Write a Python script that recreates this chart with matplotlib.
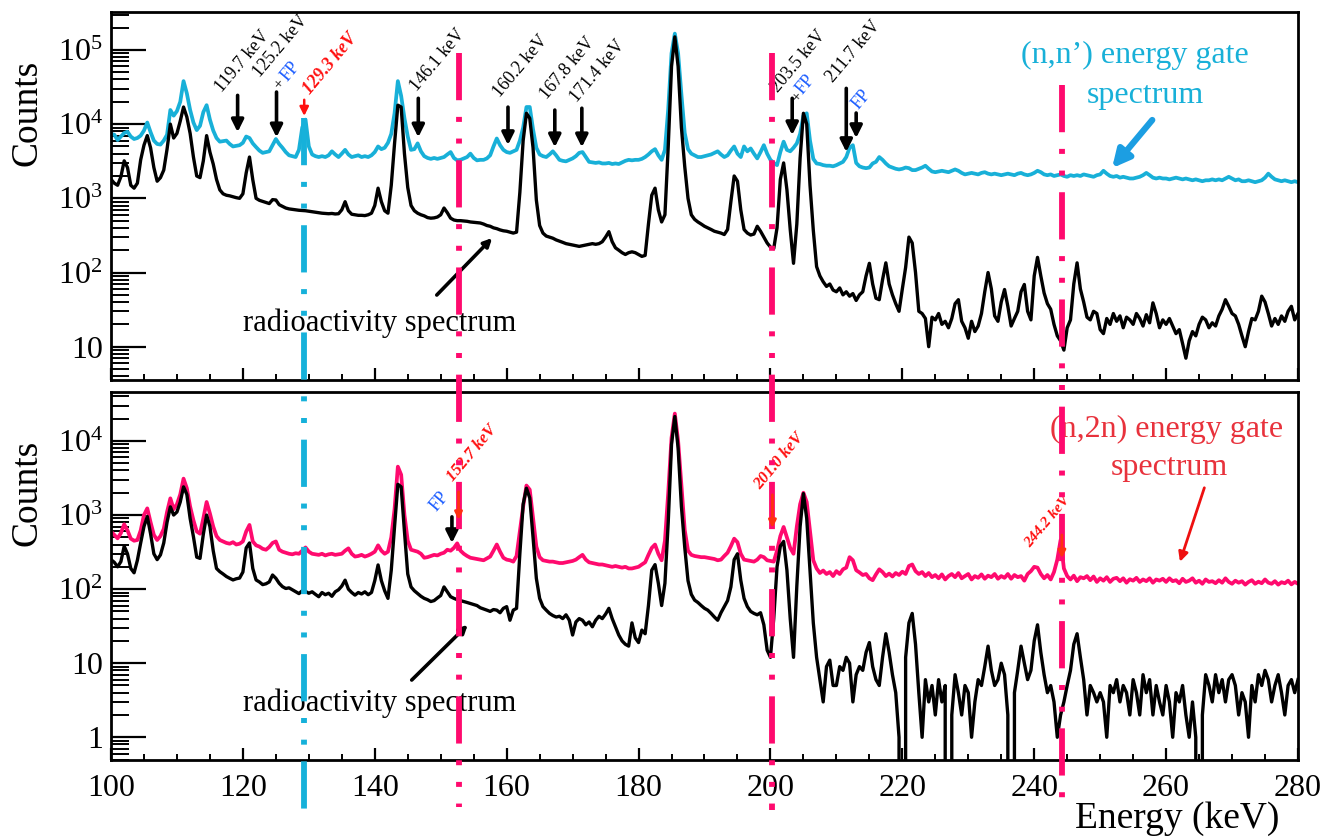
import numpy as np
import matplotlib
matplotlib.use("Agg")
import matplotlib.pyplot as plt
from matplotlib import transforms
from matplotlib.lines import Line2D
from matplotlib.patches import FancyArrowPatch
from matplotlib.ticker import FixedLocator, FixedFormatter, LogLocator, NullFormatter, MultipleLocator

plt.rcParams['font.family'] = ['Liberation Serif', 'DejaVu Serif']
plt.rcParams['mathtext.fontset'] = 'custom'
plt.rcParams['mathtext.rm'] = 'Liberation Serif'
plt.rcParams['mathtext.it'] = 'Liberation Serif:italic'
plt.rcParams['lines.scale_dashes'] = False

# energy channels, 0.5 keV
energy = np.linspace(100, 280, 361)

# (n,n') energy gate spectrum (top, cyan) - one row = 5 keV
nn_gate = [
    7400, 7200, 6100, 6800, 7600, 7900, 6800, 6300, 6500, 7000,          # 100
    8200, 10500, 7800, 6000, 5400, 5300, 6000, 7200, 15500, 13000,       # 105
    15000, 20000, 38000, 26000, 15500, 10500, 8300, 9500, 14500, 18000,  # 110
    11500, 8200, 6500, 5800, 5900, 6000, 5400, 5000, 5100, 5200,         # 115
    5600, 6800, 6500, 5500, 4900, 4400, 4100, 4200, 4300, 5200,          # 120
    6300, 5400, 4800, 4200, 3800, 3700, 3600, 4500, 9000, 11500,         # 125
    5000, 3900, 3700, 3600, 3700, 3600, 3800, 4300, 3900, 3600,          # 130
    4000, 4500, 3900, 3600, 3700, 3800, 3600, 3700, 3600, 3800,          # 135
    4200, 5000, 4600, 4800, 5600, 7400, 14000, 38000, 24000, 12000,      # 140
    6800, 4500, 4600, 5500, 4300, 3700, 3500, 3400, 3500, 3400,          # 145
    3500, 3600, 3900, 4200, 3500, 3250, 3300, 3450, 3600, 4000,          # 150
    3500, 3250, 3300, 3300, 3450, 3800, 5000, 6400, 5200, 4500,          # 155
    4200, 4100, 4300, 4500, 6000, 9000, 17000, 17000, 8500, 4800,        # 160
    3900, 3700, 3600, 3900, 4300, 3800, 3300, 3200, 3150, 3300,          # 165
    3450, 3700, 4100, 4200, 3600, 3100, 3050, 3000, 3050, 2950,          # 170
    2950, 3000, 2900, 2950, 2900, 3050, 3200, 3300, 3250, 3300,          # 175
    3300, 3400, 3600, 3900, 4300, 4600, 3800, 3300, 4500, 16000,         # 180
    90000, 166000, 90000, 25000, 7600, 4600, 4000, 3800, 3600, 3600,     # 185
    3700, 3800, 3900, 4100, 4300, 3900, 3600, 3800, 4400, 5000,          # 190
    4000, 3600, 5000, 4300, 4700, 4000, 3450, 4200, 5200, 4000,          # 195
    3300, 3000, 2800, 4200, 5800, 4500, 4300, 4800, 5500, 7400,          # 200
    13000, 14000, 6000, 3400, 2950, 2900, 2800, 2750, 2750, 2700,        # 205
    2800, 2950, 3100, 3600, 4800, 5200, 3000, 2700, 2600, 2550,          # 210
    2600, 2950, 3100, 3600, 3300, 2950, 2700, 2600, 2500, 2450,          # 215
    2500, 2600, 2550, 2400, 2400, 2500, 2600, 2750, 2500, 2300,          # 220
    2250, 2300, 2350, 2300, 2250, 2350, 2450, 2350, 2200, 2100,          # 225
    2150, 2200, 2150, 2100, 2200, 2250, 2150, 2100, 2150, 2100,          # 230
    2050, 2100, 2150, 2100, 2050, 2150, 2200, 2100, 2050, 2100,          # 235
    2200, 2350, 2250, 2100, 2050, 2100, 2000, 2050, 2100, 2000,          # 240
    1950, 2050, 2000, 2050, 2000, 2100, 2050, 2000, 1950, 2050,          # 245
    2100, 2350, 2150, 2000, 1950, 2000, 1900, 1950, 1900, 1850,          # 250
    1850, 1900, 1950, 2050, 2200, 2050, 1900, 1850, 1900, 1850,          # 255
    1850, 1800, 1850, 1900, 1850, 1800, 1850, 1800, 1750, 1800,          # 260
    1750, 1700, 1750, 1750, 1800, 1750, 1800, 1750, 1850, 1950,          # 265
    1850, 1750, 1800, 1700, 1700, 1750, 1700, 1650, 1700, 1750,          # 270
    1900, 2150, 1950, 1800, 1750, 1700, 1750, 1700, 1650, 1700,          # 275
    1650,
]

# radioactivity spectrum, top panel (black)
radio_top = [
    1800, 1600, 1500, 1950, 3200, 2600, 1500, 1370, 1600, 3300,          # 100
    5200, 7000, 4800, 2600, 1700, 1900, 2400, 4600, 10000, 6500,         # 105
    7500, 11000, 17000, 12500, 7500, 3600, 2000, 1900, 3200, 7000,       # 110
    4200, 2900, 1800, 1300, 1150, 1100, 1080, 1050, 1020, 1000,          # 115
    1150, 2200, 3600, 1780, 1000, 940, 910, 880, 850, 960,               # 120
    950, 820, 780, 740, 720, 710, 700, 690, 685, 680,                    # 125
    670, 660, 650, 640, 630, 625, 620, 625, 615, 620,                    # 130
    700, 900, 680, 610, 600, 590, 590, 585, 600, 630,                    # 135
    800, 1370, 900, 680, 630, 1500, 5500, 18000, 17000, 4000,            # 140
    1400, 800, 680, 630, 600, 580, 550, 540, 545, 560,                   # 145
    600, 740, 640, 540, 510, 500, 500, 495, 490, 480,                    # 150
    475, 470, 465, 450, 430, 420, 400, 390, 375, 365,                    # 155
    360, 350, 340, 350, 1200, 6000, 14000, 12000, 4800, 950,             # 160
    430, 340, 310, 300, 290, 275, 265, 255, 245, 240,                    # 165
    235, 230, 225, 230, 235, 240, 245, 240, 245, 260,                    # 170
    300, 355, 260, 215, 200, 185, 175, 185, 190, 185,                    # 175
    175, 165, 170, 450, 1100, 1370, 700, 480, 600, 5000,                 # 180
    60000, 150000, 60000, 9000, 2700, 1000, 600, 520, 480, 450,          # 185
    420, 400, 380, 360, 350, 340, 325, 380, 900, 2000,                   # 190
    1700, 700, 380, 340, 320, 330, 420, 360, 300, 250,                   # 195
    220, 210, 400, 1800, 3000, 1300, 380, 133, 450, 3500,                # 200
    14000, 10000, 1500, 370, 120, 90, 75, 65, 70, 58,                    # 205
    55, 62, 50, 55, 48, 52, 42, 50, 55, 90,                              # 210
    133, 70, 45, 43, 80, 135, 70, 50, 38, 30,                            # 215
    60, 117, 300, 250, 100, 30, 28, 24, 10, 25,                          # 220
    23, 28, 20, 22, 18, 24, 38, 43, 22, 18,                              # 225
    13, 22, 16, 19, 28, 55, 100, 60, 26, 22,                             # 230
    40, 59, 35, 19, 24, 30, 55, 69, 30, 23,                              # 235
    90, 160, 90, 53, 38, 32, 20, 14, 12, 9,                              # 240
    18, 23, 70, 135, 60, 40, 25, 23, 30, 28,                             # 245
    17, 15, 24, 20, 28, 22, 26, 18, 25, 23,                              # 250
    20, 28, 24, 19, 27, 21, 39, 28, 18, 23,                              # 255
    20, 24, 19, 15, 17, 11, 7, 12, 16, 14,                               # 260
    20, 25, 23, 18, 21, 19, 26, 32, 43, 35,                              # 265
    28, 26, 20, 14, 10, 16, 24, 23, 30, 48,                              # 270
    40, 28, 19, 24, 20, 26, 22, 30, 35, 23,                              # 275
    28,
]

# (n,2n) energy gate spectrum (bottom, pink)
n2n_gate = [
    600, 540, 485, 570, 750, 620, 480, 450, 460, 620,                    # 100
    1000, 1230, 800, 540, 460, 520, 650, 1100, 1680, 1200,               # 105
    1400, 1900, 3100, 2300, 1300, 850, 600, 560, 900, 1500,              # 110
    1050, 700, 520, 460, 440, 420, 410, 430, 400, 410,                   # 115
    440, 600, 735, 440, 390, 375, 350, 340, 370, 420,                    # 120
    440, 340, 320, 310, 300, 295, 305, 300, 330, 365,                    # 125
    320, 300, 295, 290, 300, 285, 295, 300, 290, 295,                    # 130
    300, 330, 355, 300, 275, 280, 290, 275, 285, 300,                    # 135
    320, 390, 330, 300, 320, 500, 1200, 4500, 3500, 1000,                # 140
    450, 340, 330, 320, 300, 265, 270, 280, 290, 285,                    # 145
    300, 310, 340, 330, 360, 415, 330, 300, 280, 265,                    # 150
    260, 255, 250, 245, 260, 275, 330, 400, 320, 265,                    # 155
    250, 245, 235, 280, 600, 1300, 2500, 2200, 900, 375,                 # 160
    270, 245, 240, 235, 235, 230, 225, 225, 230, 235,                    # 165
    240, 250, 270, 290, 250, 230, 225, 220, 215, 215,                    # 170
    210, 205, 200, 205, 200, 195, 200, 190, 190, 195,                    # 175
    200, 215, 230, 290, 360, 400, 300, 245, 450, 2000,                   # 180
    11000, 23400, 10000, 2500, 630, 330, 290, 280, 275, 270,             # 185
    270, 265, 260, 255, 245, 250, 280, 310, 380, 480,                    # 190
    430, 300, 250, 245, 240, 235, 250, 280, 270, 245,                    # 195
    240, 235, 330, 520, 690, 500, 360, 300, 700, 1400,                   # 200
    2000, 1500, 600, 245, 190, 165, 178, 160, 170, 150,                  # 205
    175, 160, 185, 195, 270, 245, 180, 168, 155, 160,                    # 210
    140, 132, 158, 185, 170, 150, 162, 148, 165, 155,                    # 215
    172, 160, 205, 215, 175, 160, 170, 150, 165, 145,                    # 220
    155, 140, 158, 135, 150, 160, 145, 165, 140, 150,                    # 225
    160, 135, 150, 142, 158, 138, 152, 145, 160, 138,                    # 230
    150, 142, 160, 138, 155, 145, 150, 130, 160, 175,                    # 235
    200, 195, 160, 140, 155, 135, 170, 250, 460, 190,                    # 240
    150, 135, 152, 128, 145, 140, 150, 132, 148, 125,                    # 245
    140, 130, 145, 125, 138, 142, 128, 140, 122, 136,                    # 250
    130, 142, 125, 135, 128, 140, 122, 135, 130, 138,                    # 255
    125, 140, 128, 132, 120, 138, 125, 130, 140, 122,                    # 260
    130, 118, 135, 125, 128, 120, 132, 122, 140, 125,                    # 265
    118, 130, 122, 128, 115, 125, 132, 118, 126, 120,                    # 270
    135, 122, 118, 128, 115, 124, 120, 130, 116, 125,                    # 275
    118,
]

# radioactivity spectrum, bottom panel (black)
radio_bottom = [
    250, 230, 200, 235, 380, 300, 190, 166, 245, 420,                    # 100
    700, 955, 560, 300, 250, 290, 420, 800, 1290, 1000,                  # 105
    1100, 1500, 2400, 1900, 900, 510, 270, 260, 550, 1000,               # 110
    700, 330, 190, 172, 160, 148, 140, 133, 138, 141,                    # 115
    170, 360, 420, 190, 133, 125, 115, 118, 125, 155,                    # 120
    140, 120, 108, 102, 104, 98, 92, 87, 95, 93,                         # 125
    88, 92, 85, 79, 90, 84, 88, 80, 92, 98,                              # 130
    110, 132, 100, 90, 83, 90, 86, 92, 84, 90,                           # 135
    130, 212, 130, 95, 75, 180, 700, 2600, 2400, 600,                    # 140
    160, 107, 95, 87, 80, 75, 72, 68, 70, 76,                            # 145
    82, 107, 92, 79, 75, 72, 70, 68, 66, 64,                             # 150
    62, 60, 56, 54, 52, 50, 53, 52, 48, 55,                              # 155
    58, 38, 52, 55, 300, 1400, 2300, 1700, 500, 140,                     # 160
    75, 58, 52, 47, 44, 42, 43, 40, 45, 38,                              # 165
    24, 36, 40, 38, 33, 36, 31, 38, 43, 40,                              # 170
    46, 55, 40, 31, 24, 20, 18, 17, 35, 22,                              # 175
    19, 28, 25, 60, 180, 214, 120, 60, 120, 800,                         # 180
    9000, 21400, 8000, 1300, 370, 130, 85, 71, 66, 60,                   # 185
    55, 52, 47, 42, 38, 48, 58, 70, 107, 250,                            # 190
    300, 132, 75, 58, 50, 47, 45, 48, 33, 15,                            # 195
    12, 40, 200, 380, 440, 180, 40, 12, 110, 700,                        # 200
    1950, 900, 180, 35, 12, 6, 3, 9, 11, 5,                              # 205
    5, 9, 8, 12, 10, 3, 7, 9, 8, 14,                                     # 210
    19, 9, 6, 5, 12, 25, 14, 7, 4, 1,                                    # 215
    0, 12, 35, 47, 18, 4, 1, 6, 3, 5,                                    # 220
    2, 6, 3, 5, 0, 2, 7, 4, 2, 5,                                        # 225
    4, 1, 3, 6, 5, 9, 17, 8, 5, 6,                                       # 230
    10, 7, 2, 0, 4, 8, 17, 10, 6, 8,                                     # 235
    20, 33, 14, 7, 4, 5, 3, 1, 2, 3,                                     # 240
    5, 8, 18, 25, 12, 6, 2, 5, 4, 3,                                     # 245
    4, 3, 1, 5, 4, 6, 3, 5, 4, 2,                                        # 250
    6, 4, 2, 7, 4, 6, 2, 5, 3, 2,                                        # 255
    5, 3, 1, 4, 3, 5, 2, 1, 3, 1,                                        # 260
    0, 2, 7, 5, 3, 7, 4, 6, 3, 6,                                        # 265
    7, 5, 2, 4, 3, 1, 5, 3, 7, 5,                                        # 270
    8, 6, 3, 5, 7, 4, 2, 5, 6, 4,                                        # 275
    6,
]

# gate energies drawn as dash-dot lines (keV) and their figure y span
gate_e = [129.3, 152.7, 200.3, 244.2]
gate_color = ['#16b1da', '#ff0a6e', '#ff0a6e', '#ff0a6e']
gate_y0 = [0.025, 0.038, 0.035, 0.031]
gate_y1 = [0.859, 0.937, 0.937, 0.899]

# top panel peak labels: text, x(keV), y(axes frac), arrow x, tail y, head y
top_labels = ['119.7 keV', '125.2 keV', '146.1 keV', '160.2 keV', '167.8 keV', '171.4 keV', '203.5 keV', '211.7 keV']
top_text_x = [116.8, 122.6, 146.4, 159.0, 166.1, 170.7, 201.2, 209.5]
top_text_y = [0.780, 0.821, 0.783, 0.766, 0.761, 0.753, 0.780, 0.807]
top_arrow_x = [119.2, 125.1, 146.6, 160.2, 167.3, 171.4, 203.3, 211.5]
top_arrow_y0 = [0.774, 0.783, 0.766, 0.742, 0.734, 0.739, 0.766, 0.793]
top_arrow_y1 = [0.674, 0.660, 0.660, 0.639, 0.633, 0.633, 0.666, 0.620]

# bottom panel red gate labels
bot_labels = ['152.7 keV', '201.0 keV', '244.2 keV']
bot_text_x = [151.9, 198.4, 239.4]
bot_text_y = [0.755, 0.733, 0.576]
bot_text_size = [12, 12, 11]
bot_mark_x = [152.7, 200.3, 244.2]
bot_mark_y0 = [0.728, 0.720, 0.611]
bot_mark_y1 = [0.652, 0.630, 0.548]

BLACK = 'black'
CYAN = '#18b0d8'
PINK = '#ff0a6e'
RED = '#ff1010'
BLUE = '#1f5fff'

fig = plt.figure(figsize=(13.23, 8.39), dpi=100)
ax1 = fig.add_axes([0.0839, 0.5471, 0.8972, 0.4383])
ax2 = fig.add_axes([0.0839, 0.0942, 0.8972, 0.4390])

ax1.plot(energy, nn_gate, color=CYAN, lw=2.7, zorder=2)
ax1.plot(energy, radio_top, color=BLACK, lw=2.4, zorder=3)
ax2.plot(energy, n2n_gate, color=PINK, lw=2.7, zorder=2)
ax2.plot(energy, radio_bottom, color=BLACK, lw=2.4, zorder=3)

for ax, lo, hi, ticks, labels in [
        (ax1, 3.56, 3.22e5, [10, 1e2, 1e3, 1e4, 1e5],
         ['10', r'$\mathregular{10^2}$', r'$\mathregular{10^3}$', r'$\mathregular{10^4}$', r'$\mathregular{10^5}$']),
        (ax2, 0.494, 4.63e4, [1, 10, 1e2, 1e3, 1e4],
         ['1', '10', r'$\mathregular{10^2}$', r'$\mathregular{10^3}$', r'$\mathregular{10^4}$'])]:
    ax.set_yscale('log', nonpositive='clip')
    ax.set_xlim(100, 280)
    ax.set_ylim(lo, hi)
    ax.yaxis.set_major_locator(FixedLocator(ticks))
    ax.yaxis.set_major_formatter(FixedFormatter(labels))
    ax.yaxis.set_minor_locator(LogLocator(base=10, subs=np.arange(2, 10), numticks=20))
    ax.yaxis.set_minor_formatter(NullFormatter())
    ax.xaxis.set_major_locator(MultipleLocator(20))
    ax.xaxis.set_minor_locator(MultipleLocator(5))
    ax.tick_params(axis='y', which='major', direction='in', length=25, width=1.6, labelsize=23, pad=6,
                   left=True, right=False)
    ax.tick_params(axis='y', which='minor', direction='in', length=13, width=1.4, left=True, right=False)
    ax.tick_params(axis='x', which='major', direction='in', length=9, width=1.6, labelsize=23, pad=10,
                   top=False)
    ax.tick_params(axis='x', which='minor', direction='in', length=4, width=1.4, top=False)
    for sp in ax.spines.values():
        sp.set_linewidth(2.0)

ax1.tick_params(axis='x', labelbottom=False)

fig.text(0.0204, 0.8653, 'Counts', rotation=90, ha='center', va='center', fontsize=27)
fig.text(0.0204, 0.4124, 'Counts', rotation=90, ha='center', va='center', fontsize=27)
fig.text(0.890, 0.003, 'Energy (keV)', ha='center', va='bottom', fontsize=27)

# gate lines across both panels
for e, c, y0, y1 in zip(gate_e, gate_color, gate_y0, gate_y1):
    tr = transforms.blended_transform_factory(ax1.transData, fig.transFigure)
    fig.add_artist(Line2D([e, e], [y1, y0], transform=tr, color=c, lw=4.2,
                          linestyle=(0, (34, 12, 3.6, 12, 3.6, 12)), solid_capstyle='butt',
                          dash_capstyle='butt', zorder=3))

arrow_kw = dict(arrowstyle='-|>', color=BLACK, lw=2.6, mutation_scale=18, shrinkA=0, shrinkB=0)
mixed = ('data', 'axes fraction')

tr1 = transforms.blended_transform_factory(ax1.transData, ax1.transAxes)
tr2 = transforms.blended_transform_factory(ax2.transData, ax2.transAxes)

# top panel annotations
for lab, tx, ty, axx, y0, y1 in zip(top_labels, top_text_x, top_text_y, top_arrow_x, top_arrow_y0, top_arrow_y1):
    ax1.text(tx, ty, lab, transform=tr1, rotation=50, rotation_mode='anchor',
             ha='left', va='baseline', fontsize=13)
    ax1.annotate('', xy=(axx, y1), xycoords=mixed, xytext=(axx, y0), textcoords=mixed, arrowprops=arrow_kw)

ax1.text(125.5, 0.788, '+', transform=tr1, rotation=50, rotation_mode='anchor', ha='left', va='baseline', fontsize=11)
ax1.text(126.7, 0.810, 'FP', transform=tr1, rotation=50, rotation_mode='anchor', ha='left', va='baseline',
         fontsize=13, color=BLUE)
ax1.text(204.0, 0.753, '+', transform=tr1, rotation=50, rotation_mode='anchor', ha='left', va='baseline', fontsize=11)
ax1.text(204.9, 0.774, 'FP', transform=tr1, rotation=50, rotation_mode='anchor', ha='left', va='baseline',
         fontsize=13, color=BLUE)
ax1.text(213.3, 0.734, 'FP', transform=tr1, rotation=50, rotation_mode='anchor', ha='left', va='baseline',
         fontsize=13, color=BLUE)
ax1.annotate('', xy=(213.0, 0.658), xycoords=mixed, xytext=(213.0, 0.726), textcoords=mixed, arrowprops=arrow_kw)

ax1.text(130.2, 0.774, '129.3 keV', transform=tr1, rotation=50, rotation_mode='anchor', ha='left',
         va='baseline', fontsize=13, color=RED, fontweight='bold', fontstyle='italic')
ax1.annotate('', xy=(129.3, 0.718), xycoords=mixed, xytext=(129.3, 0.762), textcoords=mixed,
             arrowprops=dict(arrowstyle='-|>', color=RED, lw=1.8, mutation_scale=13, shrinkA=0, shrinkB=0))

ax1.text(255.3, 0.883, '(n,n\u2019) energy gate', transform=tr1, ha='center', va='center', fontsize=23, color=CYAN)
ax1.text(256.8, 0.774, 'spectrum', transform=tr1, ha='center', va='center', fontsize=23, color=CYAN)
ax1.annotate('', xy=(251.8, 0.576), xycoords=mixed, xytext=(257.9, 0.707), textcoords=mixed,
             arrowprops=dict(arrowstyle='-|>', color='#1c9ee2', lw=4.5, mutation_scale=26, shrinkA=0, shrinkB=0))

ax1.text(140.8, 0.155, 'radioactivity spectrum', transform=tr1, ha='center', va='center', fontsize=22)
ax1.annotate('', xy=(157.8, 0.386), xycoords=mixed, xytext=(149.4, 0.231), textcoords=mixed,
             arrowprops=dict(arrowstyle='-|>', color=BLACK, lw=2.6, mutation_scale=12, shrinkA=0, shrinkB=0))

# bottom panel annotations
ax2.text(149.4, 0.673, 'FP', transform=tr2, rotation=50, rotation_mode='anchor', ha='left', va='baseline',
         fontsize=13, color=BLUE)
ax2.annotate('', xy=(151.7, 0.589), xycoords=mixed, xytext=(151.7, 0.660), textcoords=mixed, arrowprops=arrow_kw)

for lab, tx, ty, fs in zip(bot_labels, bot_text_x, bot_text_y, bot_text_size):
    ax2.text(tx, ty, lab, transform=tr2, rotation=50, rotation_mode='anchor', ha='left', va='baseline',
             fontsize=fs, color=RED, fontweight='bold', fontstyle='italic')
for mx, y0, y1 in zip(bot_mark_x, bot_mark_y0, bot_mark_y1):
    fig.add_artist(FancyArrowPatch((mx, y0), (mx, y1), transform=tr2, arrowstyle='-|>', color='#ff3010',
                                   lw=2.0, mutation_scale=11, shrinkA=0, shrinkB=0, zorder=4))

ax2.text(260.0, 0.896, '(n,2n) energy gate', transform=tr2, ha='center', va='center', fontsize=23, color='#e8323c')
ax2.text(260.5, 0.793, 'spectrum', transform=tr2, ha='center', va='center', fontsize=23, color='#e8323c')
ax2.annotate('', xy=(262.1, 0.538), xycoords=mixed, xytext=(265.8, 0.739), textcoords=mixed,
             arrowprops=dict(arrowstyle='-|>', color='#ee1010', lw=2.0, mutation_scale=14, shrinkA=0, shrinkB=0))

ax2.text(140.8, 0.155, 'radioactivity spectrum', transform=tr2, ha='center', va='center', fontsize=22)
ax2.annotate('', xy=(154.1, 0.367), xycoords=mixed, xytext=(145.6, 0.217), textcoords=mixed,
             arrowprops=dict(arrowstyle='-|>', color=BLACK, lw=2.6, mutation_scale=12, shrinkA=0, shrinkB=0))

fig.savefig('out.png', dpi=100)
